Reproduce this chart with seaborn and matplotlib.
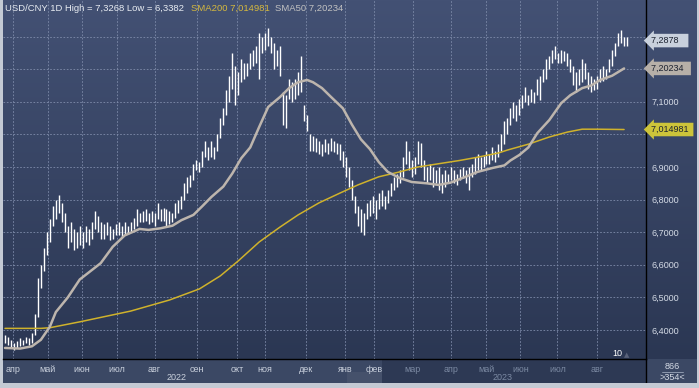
import numpy as np
import seaborn as sns
import matplotlib.pyplot as plt
from matplotlib.colors import to_rgb
from matplotlib.ticker import FuncFormatter
from matplotlib.transforms import blended_transform_factory

# daily bars, high / low (one bar about every 3 px)
highs = [
    6.385, 6.38, 6.37, 6.36, 6.365, 6.375, 6.37, 6.38, 6.375, 6.39,
    6.45, 6.56, 6.60, 6.65, 6.70, 6.74, 6.78, 6.80, 6.814, 6.79,
    6.76, 6.72, 6.73, 6.71, 6.70, 6.72, 6.70, 6.72, 6.71, 6.73,
    6.765, 6.75, 6.73, 6.725, 6.73, 6.72, 6.71, 6.725, 6.73, 6.72,
    6.73, 6.72, 6.73, 6.745, 6.77, 6.76, 6.765, 6.77, 6.76, 6.765,
    6.76, 6.79, 6.77, 6.775, 6.77, 6.765, 6.76, 6.79, 6.80, 6.81,
    6.85, 6.87, 6.875, 6.91, 6.92, 6.915, 6.95, 6.98, 6.96, 6.98,
    6.96, 7.00, 7.05, 7.08, 7.135, 7.18, 7.25, 7.21, 7.19, 7.23,
    7.22, 7.22, 7.25, 7.26, 7.27, 7.31, 7.30, 7.31, 7.3268, 7.30,
    7.28, 7.26, 7.27, 7.13, 7.12, 7.17, 7.16, 7.17, 7.19, 7.24,
    7.09, 7.06, 7.00, 6.995, 6.99, 6.98, 6.97, 6.985, 6.975, 6.99,
    6.98, 6.975, 6.97, 6.95, 6.93, 6.90, 6.86, 6.81, 6.78, 6.77,
    6.76, 6.79, 6.80, 6.81, 6.80, 6.82, 6.83, 6.81, 6.83, 6.85,
    6.87, 6.88, 6.89, 6.93, 6.98, 6.95, 6.92, 6.93, 6.98, 6.975,
    6.92, 6.90, 6.91, 6.90, 6.89, 6.90, 6.88, 6.89, 6.88, 6.90,
    6.89, 6.88, 6.895, 6.90, 6.89, 6.90, 6.91, 6.93, 6.94, 6.93,
    6.935, 6.95, 6.94, 6.96, 6.95, 6.97, 7.00, 7.04, 7.05, 7.08,
    7.10, 7.09, 7.11, 7.12, 7.145, 7.12, 7.14, 7.13, 7.17, 7.18,
    7.20, 7.23, 7.24, 7.26, 7.27, 7.25, 7.26, 7.255, 7.25, 7.23,
    7.21, 7.19, 7.20, 7.23, 7.22, 7.19, 7.18, 7.17, 7.18, 7.20,
    7.21, 7.20, 7.23, 7.26, 7.28, 7.31, 7.32, 7.30, 7.30,
]
lows = [
    6.36, 6.355, 6.345, 6.338, 6.345, 6.35, 6.355, 6.36, 6.355, 6.36,
    6.385, 6.44, 6.53, 6.58, 6.63, 6.67, 6.72, 6.74, 6.76, 6.73,
    6.70, 6.65, 6.67, 6.645, 6.65, 6.66, 6.65, 6.67, 6.66, 6.68,
    6.71, 6.70, 6.68, 6.68, 6.69, 6.675, 6.68, 6.69, 6.69, 6.685,
    6.69, 6.695, 6.70, 6.71, 6.72, 6.73, 6.73, 6.735, 6.725, 6.73,
    6.72, 6.74, 6.735, 6.735, 6.72, 6.725, 6.73, 6.745, 6.76, 6.77,
    6.80, 6.82, 6.84, 6.86, 6.89, 6.885, 6.90, 6.93, 6.92, 6.93,
    6.925, 6.95, 6.99, 7.03, 7.06, 7.10, 7.14, 7.09, 7.12, 7.16,
    7.17, 7.18, 7.20, 7.21, 7.22, 7.17, 7.25, 7.26, 7.27, 7.25,
    7.20, 7.21, 7.18, 7.03, 7.02, 7.11, 7.10, 7.11, 7.12, 7.13,
    7.04, 7.01, 6.95, 6.95, 6.945, 6.94, 6.935, 6.945, 6.94, 6.95,
    6.945, 6.94, 6.92, 6.90, 6.87, 6.84, 6.80, 6.76, 6.72, 6.70,
    6.69, 6.74, 6.75, 6.76, 6.74, 6.77, 6.78, 6.77, 6.79, 6.81,
    6.83, 6.84, 6.85, 6.87, 6.91, 6.89, 6.87, 6.88, 6.91, 6.90,
    6.86, 6.85, 6.86, 6.84, 6.85, 6.83, 6.82, 6.84, 6.85, 6.86,
    6.85, 6.845, 6.86, 6.865, 6.85, 6.83, 6.87, 6.88, 6.89, 6.89,
    6.90, 6.91, 6.91, 6.92, 6.915, 6.93, 6.95, 6.97, 7.00, 7.03,
    7.05, 7.04, 7.06, 7.08, 7.10, 7.09, 7.10, 7.095, 7.12, 7.105,
    7.16, 7.17, 7.20, 7.22, 7.23, 7.22, 7.22, 7.225, 7.21, 7.19,
    7.15, 7.13, 7.15, 7.16, 7.17, 7.14, 7.13, 7.135, 7.14, 7.16,
    7.165, 7.17, 7.19, 7.21, 7.24, 7.27, 7.28, 7.27, 7.27,
]

# moving averages, read at a few bar positions
sma50_pos = [0, 5, 9, 12, 15, 17, 21, 25, 32, 36, 40, 45, 48, 52, 56, 59, 63, 66,
             69, 73, 76, 79, 82, 85, 88, 92, 95, 98, 101, 103, 106, 109, 113, 116,
             119, 122, 125, 128, 132, 136, 141, 145, 149, 154, 158, 163, 167, 169,
             172, 175, 178, 182, 186, 189, 193, 196, 199, 203, 207]
sma50_val = [6.345, 6.343, 6.35, 6.37, 6.41, 6.455, 6.50, 6.555, 6.605, 6.655, 6.69,
             6.71, 6.707, 6.712, 6.72, 6.737, 6.753, 6.78, 6.808, 6.84, 6.88, 6.927,
             6.96, 7.023, 7.084, 7.115, 7.142, 7.16, 7.167, 7.16, 7.142, 7.115, 7.08,
             7.03, 6.985, 6.955, 6.915, 6.885, 6.866, 6.854, 6.85, 6.845, 6.852, 6.87,
             6.885, 6.897, 6.905, 6.92, 6.937, 6.96, 7.004, 7.044, 7.096, 7.12, 7.142,
             7.15, 7.167, 7.18, 7.2023]
sma200_pos = [0, 12, 15, 25, 42, 55, 65, 72, 78, 85, 92, 98, 105, 112, 118, 125, 132,
              138, 145, 152, 158, 165, 168, 175, 182, 188, 193, 198, 207]
sma200_val = [6.405, 6.405, 6.407, 6.425, 6.458, 6.492, 6.526, 6.566, 6.612, 6.67,
              6.716, 6.753, 6.79, 6.82, 6.845, 6.87, 6.885, 6.90, 6.91, 6.92, 6.93,
              6.943, 6.952, 6.97, 6.992, 7.007, 7.016, 7.016, 7.015]

month_pos = [2.7, 14.3, 25.7, 37.3, 50, 64.3, 77.7, 87, 100.7, 113.7, 123.3,
             136.3, 149, 161, 172.3, 184.7, 198]
month_labels = ['апр', 'май', 'июн', 'июл', 'авг', 'сен', 'окт', 'ноя', 'дек',
                'янв', 'фев', 'мар', 'апр', 'май', 'июн', 'июл', 'авг']
price_ticks = [6.4, 6.5, 6.6, 6.7, 6.8, 6.9, 7.0, 7.1, 7.2, 7.3]
covered_ticks = [7.0, 7.2, 7.3]  # hidden behind the value tags

last_close = 7.2878
sma50_last = 7.20234
sma200_last = 7.014981

W, H = 699, 388
FONT = ['Liberation Sans', 'DejaVu Sans']

sns.set_style('dark')
plt.rcParams['font.family'] = FONT

fig = plt.figure(figsize=(W / 100, H / 100), dpi=100, facecolor='#c4cad4')

# gradient background behind the price area and the right scale
bg = fig.add_axes([3 / W, 29 / H, 694 / W, 359 / H], zorder=0)
top_c = np.array(to_rgb('#435174'))
bot_c = np.array(to_rgb('#2b3753'))
t = np.linspace(0, 1, 256)[:, None, None]
grad = top_c * (1 - t) + bot_c * t
bg.imshow(grad, aspect='auto', extent=[0, 1, 0, 1])
bg.axis('off')

# bottom date panel
axb = fig.add_axes([3 / W, 5 / H, 694 / W, 24 / H], zorder=1)
axb.set_xlim(3, 697)
axb.set_ylim(383, 359)
axb.axis('off')
axb.axvspan(3, 382, color='#3b4864', lw=0)
axb.fill_between([347, 382], 372, 383, color='#45516b', lw=0)
axb.axvspan(382, 646, color='#2d3954', lw=0)
axb.axvspan(646, 697, color='#3b4864', lw=0)
axb.axvline(646.5, color='black', lw=1)
axb.text(177, 378, '2022', color='#c9d0dc', fontsize=6.5, ha='center', va='center')
axb.text(503, 378, '2023', color='#7b89a2', fontsize=6.5, ha='center', va='center')
axb.text(672, 366.5, '866', color='#d4dae4', fontsize=6.5, ha='center', va='center')
axb.plot([662, 683], [372, 372], color='#9aa6ba', lw=0.6)
axb.text(672, 378, '>354<', color='#d4dae4', fontsize=6.5, ha='center', va='center')

# price area
ax = fig.add_axes([3 / W, 29 / H, 643 / W, 359 / H], zorder=2)
ax.set_facecolor('none')
ax.set_xlim(-2 / 3, 643 / 3)
ax.set_ylim(6.4 - 29 / 326, 6.4 + 330 / 326)

idx = np.arange(len(highs))
ax.vlines(idx, lows, highs, color='white', lw=1.0, zorder=3)
sns.lineplot(x=sma200_pos, y=sma200_val, ax=ax, color='#cfb22c', lw=1.1, zorder=4)
sns.lineplot(x=sma50_pos, y=sma50_val, ax=ax, color='#bdb5ad', lw=1.8, zorder=5)


def price_fmt(v, _):
    if any(abs(v - c) < 1e-6 for c in covered_ticks):
        return ''
    return f'{v:.4f}'.replace('.', ',')


ax.set_yticks(price_ticks)
ax.set_xticks(month_pos)
ax.set_xticklabels(month_labels)
ax.yaxis.set_major_formatter(FuncFormatter(price_fmt))
ax.yaxis.tick_right()
ax.grid(True, color='#7f8cab', linestyle=(0, (2, 2)), lw=0.6)
ax.tick_params(axis='y', length=0, pad=4, labelsize=6.5, labelcolor='#d5dbe6')
ax.tick_params(axis='x', length=0, pad=4, labelsize=6.5, labelcolor='#c9d0dc')
for i, lab in enumerate(ax.get_xticklabels()):
    if i > 10:
        lab.set_color('#7b89a2')
ax.set_xlabel('')
ax.set_ylabel('')
for side in ['left', 'top']:
    ax.spines[side].set_visible(False)
for side in ['right', 'bottom']:
    ax.spines[side].set_color('black')
    ax.spines[side].set_linewidth(1)

# value tags on the right scale
tr = blended_transform_factory(ax.transAxes, ax.transData)
tags = [(last_close, '7,2878   ', '#c9d1dd'),
        (sma50_last, '7,20234  ', '#b7b0a8'),
        (sma200_last, '7,014981 ', '#cdc43a')]
for val, txt, fc in tags:
    ax.text(1.008, val, txt, transform=tr, ha='left', va='center', fontsize=6.5,
            color='#1c2230', clip_on=False, zorder=10,
            bbox=dict(boxstyle='larrow,pad=0.25', fc=fc, ec='none'))

# header line
fig.text(5 / W, 1 - 8.5 / H, 'USD/CNY 1D High = 7,3268 Low = 6,3382', color='#e8ecf2',
         fontsize=6.8, ha='left', va='center')
fig.text(191 / W, 1 - 8.5 / H, 'SMA200 7,014981', color='#d6b93e', fontsize=6.8,
         ha='left', va='center')
fig.text(275 / W, 1 - 8.5 / H, 'SMA50 7,20234', color='#c2c2c2', fontsize=6.8,
         ha='left', va='center')

fig.text(617 / W, 1 - 353 / H, '10', color='white', fontsize=6.5, ha='center', va='center')
fig.text(627 / W, 1 - 355 / H, '▲', color='#59627a', fontsize=5, ha='center', va='center',
         family='DejaVu Sans')

fig.savefig('out.png', dpi=100, facecolor=fig.get_facecolor())
